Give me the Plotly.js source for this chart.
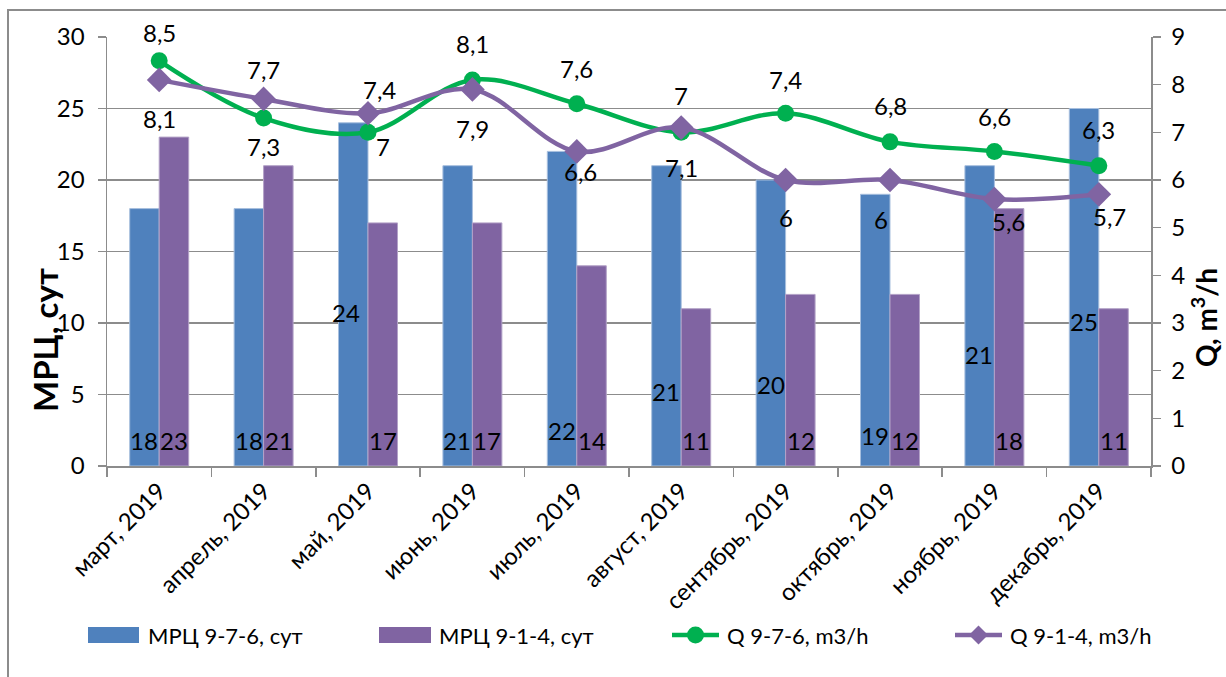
<!DOCTYPE html>
<html>
<head>
<meta charset="utf-8">
<script src="https://cdn.plot.ly/plotly-3.0.1.min.js"></script>
<style>html,body{margin:0;padding:0;background:#fff;}#chart{width:1226px;height:677px;}</style>
</head>
<body>
<div id="chart"></div>
<script>
// ---- data ----
const categories = ['март, 2019','апрель, 2019','май, 2019','июнь, 2019','июль, 2019','август, 2019','сентябрь, 2019','октябрь, 2019','ноябрь, 2019','декабрь, 2019'];
const mrc976 = [18,18,24,21,22,21,20,19,21,25];
const mrc914 = [23,21,17,17,14,11,12,12,18,11];
const q976 = [8.5,7.3,7,8.1,7.6,7,7.4,6.8,6.6,6.3];
const q914 = [8.1,7.7,7.4,7.9,6.6,7.1,6,6,5.6,5.7];
const seriesNames = ['МРЦ 9-7-6, сут','МРЦ 9-1-4, сут','Q 9-7-6, m3/h','Q 9-1-4, m3/h'];

// label placement (as in the reference's data labels)
const blueLabelY = [1.8,1.8,10.7,1.8,2.5,5.2,5.7,2.1,7.8,10.1];
const purpleLabelY = [1.8,1.8,1.8,1.8,1.8,1.8,1.8,1.8,1.8,1.8];
const blueLabelDX = [-15,-15,-22,-15,-15,-15,-15,-15,-15,-15];
const greenLabelUp = [28,-28,-14,36,35,37,34,36,35,36];
const greenLabelDX = [0,0,15,0,0,0,0,0,0,0];
const purpleLabelUp = [-39,29,24,-39,-20,-40,-37,-39,-22,-22];
const purpleLabelDX = [0,0,11,0,4,0,0,-9,14,11];

const BLUE = '#4F81BD', PURPLE = '#8064A2', GREEN = '#00B050', GRID = '#8C8C8C';
const FONT = 'Lato, "Open Sans", sans-serif';
const fmt = v => String(v).replace('.', ',');

// plot-area geometry (pixels)
const L = 107, R = 1151, T = 37, B = 466;
const W = R - L, H = B - T;
const px = x => (x - L) / W;
const py = y => (B - y) / H;

const traces = [
  {type:'bar', name:seriesNames[0], x:categories, y:mrc976, marker:{color:BLUE, line:{color:'#A7BFDE', width:1}}, yaxis:'y', hoverinfo:'x+y'},
  {type:'bar', name:seriesNames[1], x:categories, y:mrc914, marker:{color:PURPLE, line:{color:'#B3A2C7', width:1}}, yaxis:'y', hoverinfo:'x+y'},
  {type:'scatter', mode:'lines+markers', name:seriesNames[2], x:categories, y:q976, yaxis:'y2', cliponaxis:false,
    line:{color:GREEN, width:4.5, shape:'spline', smoothing:1}, marker:{symbol:'circle', size:17, color:GREEN}},
  {type:'scatter', mode:'lines+markers', name:seriesNames[3], x:categories, y:q914, yaxis:'y2', cliponaxis:false,
    line:{color:PURPLE, width:4.5, shape:'spline', smoothing:1}, marker:{symbol:'diamond', size:19, color:PURPLE}}
];

const annFont = {family:FONT, size:24, color:'#000'};
const annotations = [];
categories.forEach((c,i) => {
  annotations.push({x:c, y:blueLabelY[i], xref:'x', yref:'y', text:String(mrc976[i]), showarrow:false, xshift:blueLabelDX[i], font:annFont});
  annotations.push({x:c, y:purpleLabelY[i], xref:'x', yref:'y', text:String(mrc914[i]), showarrow:false, xshift:15, font:annFont});
  annotations.push({x:c, y:q976[i], xref:'x', yref:'y2', text:fmt(q976[i]), showarrow:false, xshift:greenLabelDX[i], yshift:greenLabelUp[i], font:annFont});
  annotations.push({x:c, y:q914[i], xref:'x', yref:'y2', text:fmt(q914[i]), showarrow:false, xshift:purpleLabelDX[i], yshift:purpleLabelUp[i], font:annFont});
});
// axis titles
annotations.push({xref:'paper', yref:'paper', x:px(45), y:py(340), text:'<b>МРЦ, сут</b>', textangle:-90, showarrow:false,
  font:{family:FONT, size:33, color:'#000'}, xanchor:'center', yanchor:'middle'});
annotations.push({xref:'paper', yref:'paper', x:px(1204), y:py(318), text:'<b>Q, m<sup>3</sup>/h</b>', textangle:-90, showarrow:false,
  font:{family:FONT, size:28, color:'#000'}, xanchor:'center', yanchor:'middle'});

// custom legend
const legY = 635;
const legFont = {family:FONT, size:22, color:'#000'};
const shapes = [
  {type:'rect', xref:'paper', yref:'paper', x0:px(8), x1:px(1260), y0:py(10), y1:py(720), line:{color:'#8C8C8C', width:2}, fillcolor:'rgba(0,0,0,0)', layer:'below'},
  {type:'rect', xref:'paper', yref:'paper', x0:px(88), x1:px(139), y0:py(legY-8), y1:py(legY+8), line:{width:0}, fillcolor:BLUE},
  {type:'rect', xref:'paper', yref:'paper', x0:px(379), x1:px(431), y0:py(legY-8), y1:py(legY+8), line:{width:0}, fillcolor:PURPLE},
  {type:'line', xref:'paper', yref:'paper', x0:px(672), x1:px(719), y0:py(legY), y1:py(legY), line:{color:GREEN, width:4.5}},
  {type:'circle', xref:'paper', yref:'paper', x0:px(695.5-8.5), x1:px(695.5+8.5), y0:py(legY-8.5), y1:py(legY+8.5), line:{width:0}, fillcolor:GREEN},
  {type:'line', xref:'paper', yref:'paper', x0:px(955), x1:px(1002), y0:py(legY), y1:py(legY), line:{color:PURPLE, width:4.5}},
  {type:'path', xref:'paper', yref:'paper',
    path:`M ${px(978.5-9.5)} ${py(legY)} L ${px(978.5)} ${py(legY-9.5)} L ${px(978.5+9.5)} ${py(legY)} L ${px(978.5)} ${py(legY+9.5)} Z`,
    line:{width:0}, fillcolor:PURPLE}
];
const legTextX = [146, 437, 725, 1008];
seriesNames.forEach((n,i) => {
  annotations.push({xref:'paper', yref:'paper', x:px(legTextX[i]), y:py(legY), text:n, showarrow:false, xanchor:'left', yanchor:'middle', font:legFont});
});

const layout = {
  width:1226, height:677,
  margin:{l:L, r:1226-R, t:T, b:677-B, pad:0},
  paper_bgcolor:'#fff', plot_bgcolor:'#fff',
  font:{family:FONT, size:24, color:'#000'},
  showlegend:false,
  barmode:'group', bargap:0.435, bargroupgap:0,
  xaxis:{type:'category', range:[-0.5, categories.length-0.5], autorange:false, showline:true, linecolor:GRID, linewidth:1.5, ticks:'outside', tickson:'boundaries', ticklen:9, tickcolor:GRID, tickwidth:1.5,
    tickangle:-45, tickfont:{family:FONT, size:24, color:'#000'}, showgrid:false, fixedrange:true},
  yaxis:{range:[0,30], autorange:false, dtick:5, showline:true, linecolor:GRID, linewidth:1.5, ticks:'outside', ticklen:8, tickcolor:GRID, tickwidth:1.5,
    showgrid:true, gridcolor:GRID, gridwidth:1.5, zeroline:false, tickfont:{family:FONT, size:24, color:'#000'}, ticklabelstandoff:8},
  yaxis2:{range:[0,9], autorange:false, dtick:1, overlaying:'y', side:'right', showline:true, linecolor:GRID, linewidth:1.5, ticks:'outside', ticklen:8,
    tickcolor:GRID, tickwidth:1.5, showgrid:false, zeroline:false, tickfont:{family:FONT, size:24, color:'#000'}, ticklabelstandoff:6},
  annotations:annotations,
  shapes:shapes
};

Plotly.newPlot('chart', traces, layout, {staticPlot:true, displayModeBar:false});
</script>
</body>
</html>
